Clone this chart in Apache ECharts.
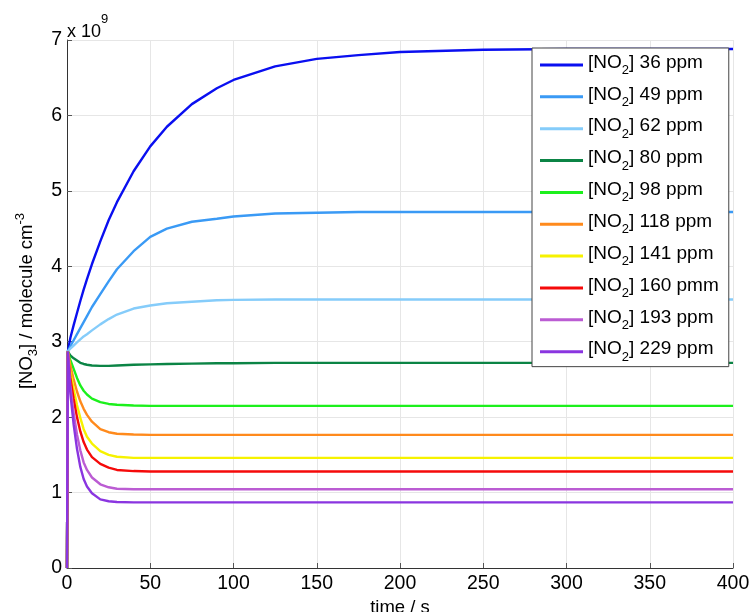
<!DOCTYPE html>
<html>
<head>
<meta charset="utf-8">
<script src="https://cdn.jsdelivr.net/npm/echarts@6/dist/echarts.min.js"></script>
<style>
  html, body { margin: 0; padding: 0; background: #fff; }
  #chart { width: 755px; height: 612px; }
</style>
</head>
<body>
<div id="chart"></div>
<script>
// time axis (s)
const times = [0, 0.5, 2, 4, 6, 8, 10, 12, 15, 20, 25, 30, 40, 50, 60, 75, 90, 100, 125, 150, 175, 200, 250, 300, 350, 400]

// [NO3] in units of 1e9 molecule cm-3
const no3_36 = [0, 2.87, 3.05, 3.22, 3.38, 3.54, 3.69, 3.83, 4.03, 4.33, 4.61, 4.85, 5.26, 5.59, 5.85, 6.15, 6.36, 6.47, 6.65, 6.75, 6.80, 6.84, 6.87, 6.88, 6.88, 6.88]
const no3_49 = [0, 2.87, 2.94, 3.02, 3.10, 3.18, 3.26, 3.34, 3.46, 3.63, 3.80, 3.96, 4.20, 4.39, 4.50, 4.59, 4.63, 4.66, 4.70, 4.71, 4.72, 4.72, 4.72, 4.72, 4.72, 4.72]
const no3_62 = [0, 2.87, 2.91, 2.95, 2.99, 3.03, 3.07, 3.10, 3.15, 3.23, 3.30, 3.36, 3.44, 3.48, 3.51, 3.53, 3.55, 3.555, 3.56, 3.56, 3.56, 3.56, 3.56, 3.56, 3.56, 3.56]
const no3_80 = [0, 2.87, 2.82, 2.78, 2.75, 2.72, 2.705, 2.695, 2.685, 2.68, 2.68, 2.685, 2.695, 2.70, 2.705, 2.71, 2.715, 2.715, 2.72, 2.72, 2.72, 2.72, 2.72, 2.72, 2.72, 2.72]
const no3_98 = [0, 2.87, 2.76, 2.64, 2.52, 2.42, 2.35, 2.30, 2.245, 2.20, 2.175, 2.165, 2.155, 2.15, 2.15, 2.15, 2.15, 2.15, 2.15, 2.15, 2.15, 2.15, 2.15, 2.15, 2.15, 2.15]
const no3_118 = [0, 2.87, 2.69, 2.50, 2.34, 2.21, 2.11, 2.03, 1.94, 1.84, 1.80, 1.78, 1.77, 1.765, 1.765, 1.765, 1.765, 1.765, 1.765, 1.765, 1.765, 1.765, 1.765, 1.765, 1.765, 1.765]
const no3_141 = [0, 2.87, 2.60, 2.37, 2.16, 1.99, 1.84, 1.74, 1.65, 1.55, 1.50, 1.475, 1.46, 1.46, 1.46, 1.46, 1.46, 1.46, 1.46, 1.46, 1.46, 1.46, 1.46, 1.46, 1.46, 1.46]
const no3_160 = [0, 2.87, 2.52, 2.24, 2.00, 1.81, 1.67, 1.57, 1.47, 1.38, 1.33, 1.30, 1.285, 1.28, 1.28, 1.28, 1.28, 1.28, 1.28, 1.28, 1.28, 1.28, 1.28, 1.28, 1.28, 1.28]
const no3_193 = [0, 2.87, 2.42, 2.05, 1.77, 1.56, 1.40, 1.30, 1.20, 1.11, 1.07, 1.05, 1.045, 1.045, 1.045, 1.045, 1.045, 1.045, 1.045, 1.045, 1.045, 1.045, 1.045, 1.045, 1.045, 1.045]
const no3_229 = [0, 2.87, 2.32, 1.90, 1.58, 1.34, 1.18, 1.08, 0.99, 0.91, 0.885, 0.875, 0.87, 0.87, 0.87, 0.87, 0.87, 0.87, 0.87, 0.87, 0.87, 0.87, 0.87, 0.87, 0.87, 0.87]

const seriesNames = ['36 ppm', '49 ppm', '62 ppm', '80 ppm', '98 ppm', '118 ppm', '141 ppm', '160 pmm', '193 ppm', '229 ppm']
const seriesData = [no3_36, no3_49, no3_62, no3_80, no3_98, no3_118, no3_141, no3_160, no3_193, no3_229]
const colors = ['#0a0ff0', '#3a9af5', '#85ccfa', '#0b8445', '#1cf01c', '#ff8a1c', '#f6f200', '#f50a0a', '#bb5cd3', '#8a35e0']

const xTicks = [0, 50, 100, 150, 200, 250, 300, 350, 400]
const yTicks = [0, 1, 2, 3, 4, 5, 6, 7]

const FONT = 'Liberation Sans'

const chart = echarts.init(document.getElementById('chart'))

const option = {
  animation: false,
  color: colors,
  textStyle: { fontFamily: FONT },
  grid: { left: 67, right: 22, top: 40, bottom: 44, containLabel: false, outerBoundsMode: 'none' },
  xAxis: {
    type: 'value',
    min: xTicks[0],
    max: xTicks[xTicks.length - 1],
    interval: 50,
    name: 'time / s',
    nameLocation: 'middle',
    nameGap: 29,
    nameTextStyle: { fontSize: 18.5, color: '#000', fontFamily: FONT },
    axisLine: { onZero: false, lineStyle: { color: '#333', width: 1 } },
    axisTick: { inside: true, length: 5, lineStyle: { color: '#555' } },
    axisLabel: { fontSize: 19.5, color: '#000', margin: 6, fontFamily: FONT },
    splitLine: { show: true, lineStyle: { color: '#e6e6e6', width: 1 } }
  },
  yAxis: {
    type: 'value',
    min: yTicks[0],
    max: yTicks[yTicks.length - 1],
    interval: 1,
    axisLine: { show: true, onZero: false, lineStyle: { color: '#333', width: 1 } },
    axisTick: { show: true, inside: true, length: 5, lineStyle: { color: '#555' } },
    axisLabel: { fontSize: 19.5, color: '#000', margin: 5, fontFamily: FONT },
    splitLine: { show: true, lineStyle: { color: '#e6e6e6', width: 1 } }
  },
  legend: {
    orient: 'vertical',
    left: 532,
    top: 48,
    padding: [0, 10, 3, 8],
    itemGap: 2.85,
    itemWidth: 43,
    itemHeight: 3,
    icon: 'rect',
    backgroundColor: '#fff',
    borderColor: '#444',
    borderWidth: 1,
    borderRadius: 0,
    data: seriesNames,
    formatter: name => '{t|[NO}{s|2}{t|] ' + name + '}',
    textStyle: {
      color: '#000',
      fontFamily: FONT,
      rich: {
        t: { fontSize: 19, lineHeight: 24, verticalAlign: 'top', color: '#000', fontFamily: FONT },
        s: { fontSize: 13, lineHeight: 14, padding: [16, 0, 0, 0], verticalAlign: 'bottom', color: '#000', fontFamily: FONT }
      }
    }
  },
  graphic: [
    {
      type: 'text',
      left: 67,
      top: 13,
      style: {
        text: '{t|x 10}{p|9}',
        rich: {
          t: { fontSize: 18, lineHeight: 28, verticalAlign: 'bottom', fill: '#000', fontFamily: FONT },
          p: { fontSize: 13, lineHeight: 28, verticalAlign: 'top', fill: '#000', fontFamily: FONT }
        }
      }
    },
    {
      type: 'text',
      x: 27,
      y: 301,
      rotation: Math.PI / 2,
      style: {
        text: '{t|[NO}{s|3}{t|] / molecule cm}{p|-3}',
        align: 'center',
        verticalAlign: 'middle',
        rich: {
          t: { fontSize: 18.5, lineHeight: 26, verticalAlign: 'middle', fill: '#000', fontFamily: FONT },
          s: { fontSize: 13, lineHeight: 26, verticalAlign: 'bottom', fill: '#000', fontFamily: FONT },
          p: { fontSize: 13, lineHeight: 26, verticalAlign: 'top', fill: '#000', fontFamily: FONT }
        }
      }
    }
  ],
  series: seriesNames.map((name, i) => ({
    name: name,
    type: 'line',
    showSymbol: false,
    smooth: false,
    lineStyle: { width: 2.4, color: colors[i] },
    itemStyle: { color: colors[i] },
    data: times.map((t, j) => [t, seriesData[i][j]])
  }))
}

option && chart.setOption(option)
</script>
</body>
</html>
